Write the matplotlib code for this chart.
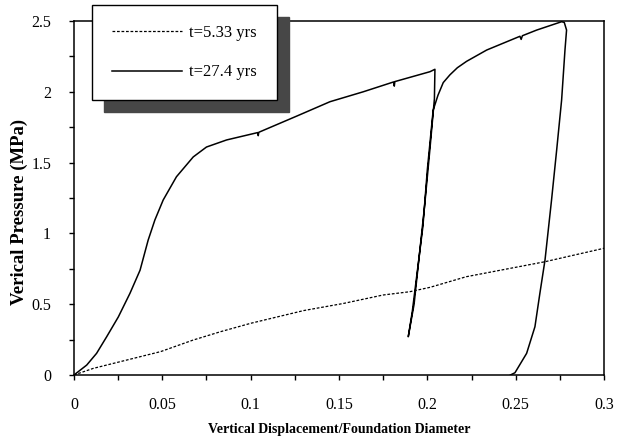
import matplotlib
matplotlib.use("Agg")
import matplotlib.pyplot as plt
from matplotlib.ticker import MultipleLocator, FormatStrFormatter

plt.rcParams["font.family"] = ["Liberation Serif", "DejaVu Serif"]

# t = 5.33 yrs (dashed)
early_x = [0, 0.011, 0.030, 0.049, 0.0675, 0.083, 0.100, 0.130, 0.1524, 0.175,
           0.190, 0.2015, 0.222, 0.2666, 0.300]
early_y = [0, 0.047, 0.106, 0.165, 0.247, 0.306, 0.365, 0.455, 0.505, 0.565,
           0.588, 0.619, 0.694, 0.800, 0.895]

# t = 27.4 yrs (solid): loading, unload, reload, unload
late_x = [0, 0.0072, 0.0128, 0.0185, 0.0251, 0.0317, 0.0374, 0.042, 0.0458, 0.0505,
          0.058, 0.0675, 0.075, 0.0864, 0.1040, 0.1043, 0.1046, 0.126, 0.1449, 0.1637,
          0.1810, 0.1813, 0.1816, 0.2015, 0.2043,
          0.2040, 0.2015, 0.1985, 0.1955, 0.1925, 0.1892,
          0.1915, 0.1945, 0.1975, 0.2000, 0.2033, 0.2060, 0.2090, 0.2128, 0.2170,
          0.2222, 0.2336, 0.2524, 0.2531, 0.2538, 0.2619, 0.2760, 0.2775,
          0.2788, 0.2779, 0.2760, 0.2732, 0.2703, 0.2666, 0.2637, 0.2609, 0.2562,
          0.2496, 0.2470]
late_y = [0, 0.07, 0.153, 0.27, 0.41, 0.577, 0.74, 0.953, 1.095, 1.236,
          1.40, 1.54, 1.61, 1.66, 1.712, 1.69, 1.714, 1.828, 1.93, 2.0,
          2.07, 2.04, 2.072, 2.142, 2.159,
          1.95, 1.60, 1.20, 0.85, 0.50, 0.27,
          0.45, 0.75, 1.05, 1.45, 1.87, 1.975, 2.065, 2.12, 2.17,
          2.215, 2.295, 2.392, 2.37, 2.396, 2.436, 2.495, 2.49,
          2.436, 2.295, 1.942, 1.589, 1.236, 0.812, 0.577, 0.341, 0.153,
          0.016, 0.0]

labels = ["t=5.33 yrs", "t=27.4 yrs"]

fig = plt.figure(figsize=(6.19, 4.43), dpi=100)
ax = fig.add_axes([0.1195, 0.1535, 0.8563, 0.7991])

ax.plot(early_x, early_y, color="black", lw=0.9, ls=(0, (2.2, 1.4)),
        label=labels[0], clip_on=False)
ax.plot(late_x, late_y, color="black", lw=1.1, label=labels[1])

ax.set_xlim(0, 0.3)
ax.set_ylim(0, 2.5)
ax.xaxis.set_major_locator(MultipleLocator(0.05))
ax.xaxis.set_minor_locator(MultipleLocator(0.025))
ax.yaxis.set_major_locator(MultipleLocator(0.5))
ax.yaxis.set_minor_locator(MultipleLocator(0.25))
ax.xaxis.set_major_formatter(FormatStrFormatter("%g"))
ax.yaxis.set_major_formatter(FormatStrFormatter("%g"))
ax.tick_params(which="both", direction="out", length=3.5, width=1, labelsize=11.5)
ax.tick_params(axis="x", pad=12)
ax.tick_params(axis="y", pad=13)
for s in ax.spines.values():
    s.set_linewidth(1.1)

ax.set_xlabel("Vertical Displacement/Foundation Diameter", fontsize=10,
              fontweight="bold")
ax.xaxis.set_label_coords(0.5, -0.135)
ax.set_ylabel("Verical Pressure (MPa)", fontsize=13.5, fontweight="bold")
ax.yaxis.set_label_coords(-0.087, 0.46)

leg = ax.legend(loc="upper left", bbox_to_anchor=(0.034, 1.045), fontsize=12,
                borderaxespad=0, frameon=True, fancybox=False, edgecolor="black",
                framealpha=1, handlelength=4.2, handletextpad=0.45,
                labelspacing=1.4, borderpad=1.2,
                shadow={"ox": 8.6, "oy": -8.6, "color": "0.28", "alpha": 1})
leg.get_frame().set_linewidth(1.0)

fig.savefig("out.png", dpi=100)
